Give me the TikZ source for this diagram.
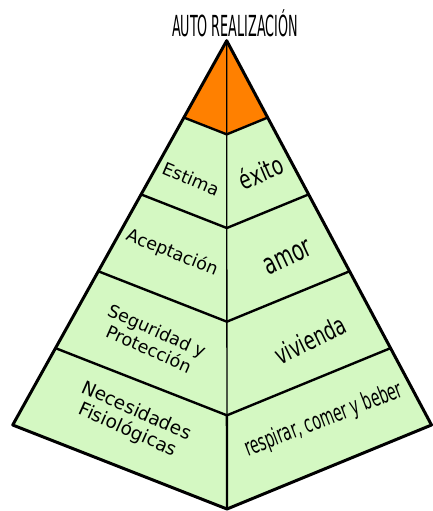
\documentclass[tikz,border=0pt]{standalone}
\usepackage{fontspec}
\setmainfont{DejaVu Sans}
\usetikzlibrary{calc}
\definecolor{facegreen}{RGB}{212,248,194}
\definecolor{toporange}{RGB}{255,128,0}
\tikzset{
  edge/.style={line width=3pt, line join=round, line cap=round},
  band/.style={line width=2.4pt, line join=round, line cap=round},
  ridge/.style={line width=1.3pt},
  lefttext/.style={font=\fontsize{17.5}{20}\selectfont, align=center, inner sep=0pt},
  righttext/.style={inner sep=0pt},
}
\newcommand{\narrowtext}[3]{{\fontsize{#1}{#1}\selectfont\scalebox{#2}[1]{#3}}}
\begin{document}
\begin{tikzpicture}[x=1pt,y=-1pt]
\useasboundingbox (0,0) rectangle (433,511);

% apex, base corners and the front ridge foot
\coordinate (A) at (226.7,40.7);
\coordinate (L) at (12.7,425);
\coordinate (R) at (431.5,425);
\coordinate (C) at (227,509);

% band boundaries at fifths of the height
\foreach \k in {1,...,4}{
  \coordinate (L\k) at ($(A)!\k/5!(L)$);
  \coordinate (C\k) at ($(A)!\k/5!(C)$);
  \coordinate (R\k) at ($(A)!\k/5!(R)$);
}

% faces
\fill[facegreen] (A) -- (L) -- (C) -- (R) -- cycle;
\fill[toporange] (A) -- (L1) -- (C1) -- (R1) -- cycle;

% band boundaries
\foreach \k in {1,...,4}{
  \draw[band] (L\k) -- (C\k) -- (R\k);
}

% front ridge
\draw[ridge] (A) -- (C4);
\draw[band] (C4) -- (C);

% outline
\draw[edge] (A) -- (L) -- (C) -- (R) -- cycle;

% title
\node[anchor=base, inner sep=0pt] (title) at (235,37)
  {\narrowtext{29}{0.44}{AUTO REALIZACIÓN}};

% left face labels
\node[lefttext, rotate=-23] (estima) at (191,179) {Estima};
\node[lefttext, rotate=-22] (acept) at (172,253) {Aceptación};
\node[lefttext, rotate=-24] (seg) at (153,340) {Seguridad y\\Protección};
\node[lefttext, rotate=-24, font=\fontsize{18.5}{21}\selectfont] (nec) at (132,421) {Necesidades\\Fisiológicas};

% right face labels
\node[righttext, rotate=23] (exito) at (261,172) {\narrowtext{26}{0.71}{éxito}};
\node[righttext, rotate=25] (amor) at (288,258) {\narrowtext{29}{0.66}{amor}};
\node[righttext, rotate=26] (viv) at (310,340) {\narrowtext{26}{0.69}{vivienda}};
\node[righttext, rotate=21] (resp) at (324,420) {\narrowtext{24}{0.59}{respirar, comer y beber}};
\end{tikzpicture}
\end{document}
